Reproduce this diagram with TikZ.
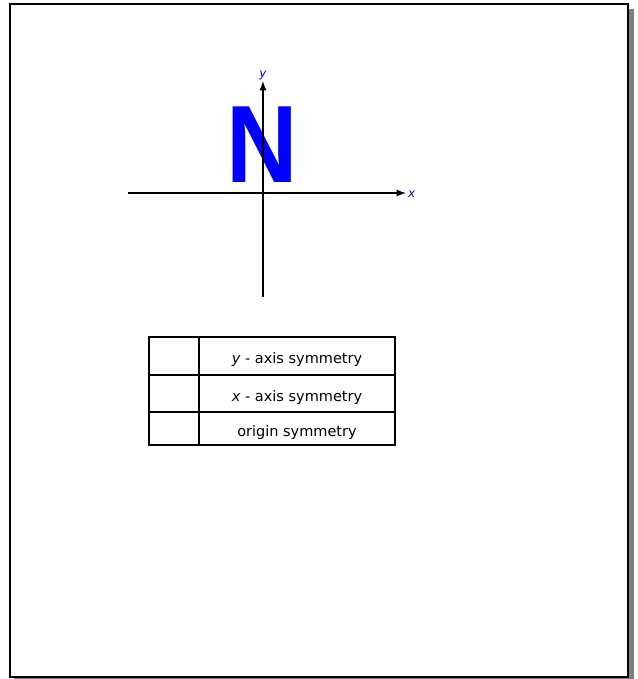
\documentclass[tikz,border=0pt]{standalone}
\usepackage{fontspec}
\setmainfont{DejaVu Sans}
\newfontfamily\letterfont{Liberation Sans}
\usetikzlibrary{arrows,math}
\definecolor{letterblue}{RGB}{0,0,255}

\begin{document}
\begin{tikzpicture}[x=1pt,y=-1pt]
\tikzmath{
\ox=263;
\oy=193;
\tl=149;
\tr=395;
\tc=199;
\rowa=375;
\rowb=412;
}
\useasboundingbox (0,0) rectangle (637,679);
%frame
\fill[black!50] (14,9) rectangle (634,679);
\filldraw[fill=white, line width=2] (10,4) rectangle (628,677);

%letter
\node[text=letterblue, font=\letterfont\bfseries\fontsize{110}{110}\selectfont, inner sep=0, xscale=0.9] (bigN) at (262,144.5) {N};

%axis
\coordinate (xl) at (128,\oy);
\coordinate (xr) at (406,\oy);
\coordinate (yb) at (\ox,297);
\coordinate (yt) at (\ox,81);
\draw[-latex, line width=2.2] (xl) -- (xr);
\draw[-latex, line width=2.2] (yb) -- (yt);
\node[letterblue, font=\fontsize{12}{12}\selectfont\itshape, right, inner sep=2] (xlab) at (406,194.5) {x};
\node[letterblue, font=\fontsize{12}{12}\selectfont\itshape, above, inner sep=1] (ylab) at (yt) {y};

%table
\draw[line width=1.8] (\tl,337) rectangle (\tr,445);
\draw[line width=1.8] (\tc,337) -- (\tc,445);
\draw[line width=1.8] (\tl,\rowa) -- (\tr,\rowa);
\draw[line width=1.8] (\tl,\rowb) -- (\tr,\rowb);
\node[font=\fontsize{14.5}{17}\selectfont] (ysym) at ({(\tc+\tr)/2},359) {\textit{y} - axis symmetry};
\node[font=\fontsize{14.5}{17}\selectfont] (xsym) at ({(\tc+\tr)/2},397) {\textit{x} - axis symmetry};
\node[font=\fontsize{14.5}{17}\selectfont] (osym) at ({(\tc+\tr)/2},432) {origin symmetry};
\end{tikzpicture}
\end{document}
